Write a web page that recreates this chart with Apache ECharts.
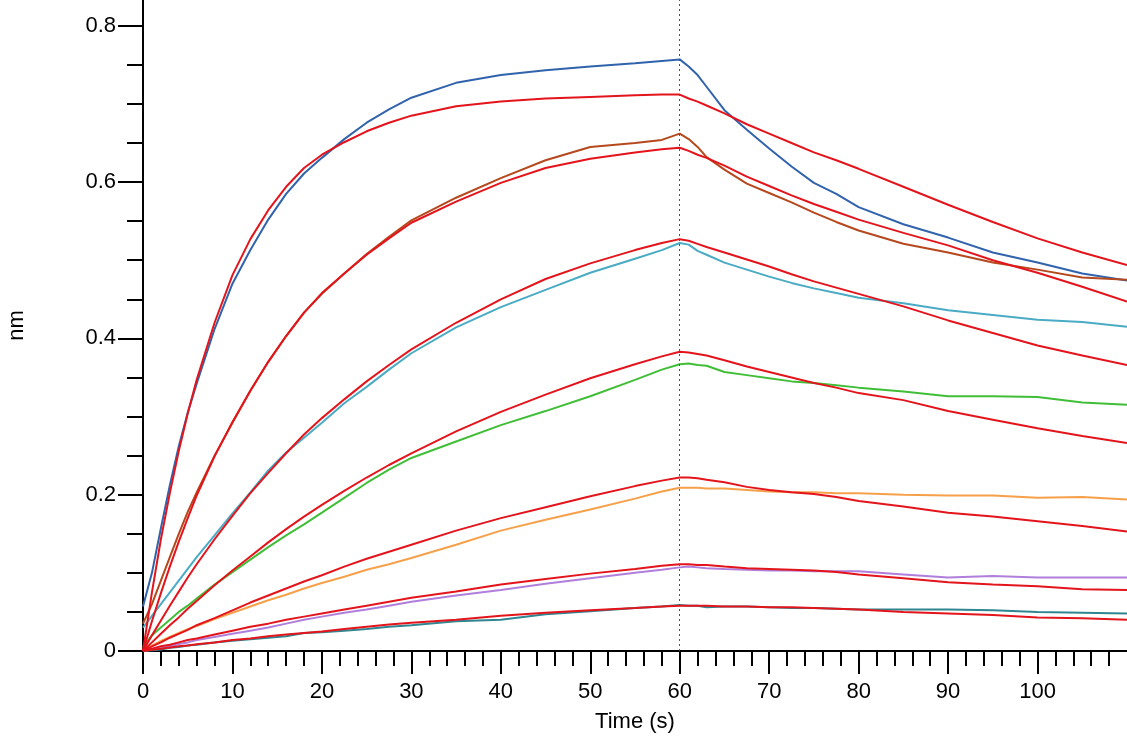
<!DOCTYPE html>
<html>
<head>
<meta charset="utf-8">
<title>Sensorgram</title>
<script src="https://cdn.jsdelivr.net/npm/echarts@6/dist/echarts.min.js"></script>
<style>
  html, body { margin: 0; padding: 0; background: #fff; }
  #main { width: 1127px; height: 739px; }
</style>
</head>
<body>
<div id="main"></div>
<script>
// time points (s)
const timeS = [0, 1, 2, 3, 4, 5, 6, 8, 10, 12, 14, 16, 18, 20, 22.5, 25, 27.5, 30, 35, 40, 45, 50, 55, 58, 60,
  61, 62, 63, 65, 67.5, 70, 72.5, 75, 77.5, 80, 85, 90, 95, 100, 105, 110];

// measured curves (nm)
const blueData = [0.057, 0.100, 0.157, 0.212, 0.262, 0.305, 0.342, 0.412, 0.470, 0.513, 0.552, 0.585, 0.611, 0.631,
  0.655, 0.676, 0.693, 0.708, 0.727, 0.737, 0.743, 0.748, 0.752, 0.755, 0.757,
  0.748, 0.737, 0.722, 0.692, 0.667, 0.643, 0.620, 0.599, 0.585, 0.568, 0.546, 0.529, 0.510, 0.497, 0.483, 0.474];
const brownData = [0.035, 0.060, 0.090, 0.120, 0.150, 0.178, 0.203, 0.250, 0.292, 0.333, 0.370, 0.403, 0.433, 0.457,
  0.483, 0.508, 0.530, 0.551, 0.580, 0.605, 0.628, 0.645, 0.650, 0.654, 0.662,
  0.655, 0.645, 0.632, 0.616, 0.598, 0.586, 0.574, 0.561, 0.549, 0.538, 0.521, 0.510, 0.497, 0.488, 0.478, 0.475];
const cyanData = [0.030, 0.045, 0.060, 0.075, 0.090, 0.105, 0.120, 0.148, 0.176, 0.203, 0.231, 0.254, 0.273, 0.292,
  0.317, 0.338, 0.360, 0.381, 0.414, 0.440, 0.462, 0.484, 0.502, 0.513, 0.522,
  0.520, 0.512, 0.507, 0.497, 0.488, 0.479, 0.471, 0.464, 0.458, 0.452, 0.445, 0.436, 0.430, 0.424, 0.421, 0.415];
const greenData = [0.005, 0.020, 0.030, 0.040, 0.050, 0.058, 0.067, 0.085, 0.101, 0.117, 0.133, 0.148, 0.162, 0.177,
  0.196, 0.215, 0.232, 0.247, 0.268, 0.289, 0.307, 0.326, 0.347, 0.360, 0.367,
  0.368, 0.366, 0.365, 0.357, 0.353, 0.349, 0.345, 0.343, 0.340, 0.337, 0.332, 0.326, 0.326, 0.325, 0.318, 0.315];
const orangeData = [0, 0.007, 0.013, 0.018, 0.023, 0.028, 0.032, 0.041, 0.049, 0.057, 0.065, 0.072, 0.080, 0.087,
  0.095, 0.104, 0.111, 0.119, 0.136, 0.154, 0.168, 0.181, 0.195, 0.204, 0.209,
  0.209, 0.209, 0.208, 0.208, 0.206, 0.204, 0.203, 0.203, 0.202, 0.202, 0.200, 0.199, 0.199, 0.196, 0.197, 0.194];
const purpleData = [0, 0.002, 0.004, 0.006, 0.009, 0.011, 0.014, 0.018, 0.022, 0.026, 0.030, 0.035, 0.040, 0.044,
  0.049, 0.053, 0.058, 0.063, 0.071, 0.078, 0.086, 0.093, 0.100, 0.104, 0.107,
  0.108, 0.107, 0.106, 0.105, 0.104, 0.103, 0.103, 0.102, 0.102, 0.102, 0.098, 0.094, 0.096, 0.094, 0.094, 0.094];
const tealData = [0, 0.001, 0.002, 0.004, 0.005, 0.007, 0.008, 0.011, 0.013, 0.015, 0.017, 0.019, 0.023, 0.024,
  0.026, 0.028, 0.031, 0.033, 0.038, 0.040, 0.047, 0.051, 0.055, 0.057, 0.059,
  0.058, 0.058, 0.056, 0.057, 0.057, 0.056, 0.055, 0.055, 0.054, 0.053, 0.053, 0.053, 0.052, 0.050, 0.049, 0.048];

// fitted curves (nm)
const fit1 = [0, 0.075, 0.143, 0.202, 0.256, 0.304, 0.347, 0.420, 0.481, 0.527, 0.564, 0.594, 0.618, 0.635,
  0.651, 0.665, 0.676, 0.685, 0.697, 0.703, 0.707, 0.709, 0.711, 0.712, 0.712,
  0.707, 0.703, 0.698, 0.688, 0.674, 0.662, 0.650, 0.638, 0.628, 0.617, 0.594, 0.571, 0.549, 0.528, 0.510, 0.494];
const fit2 = [0, 0.038, 0.074, 0.108, 0.140, 0.170, 0.199, 0.249, 0.293, 0.333, 0.370, 0.403, 0.433, 0.458,
  0.483, 0.507, 0.528, 0.548, 0.575, 0.599, 0.618, 0.630, 0.638, 0.642, 0.644,
  0.640, 0.635, 0.631, 0.621, 0.607, 0.595, 0.583, 0.572, 0.562, 0.552, 0.535, 0.519, 0.500, 0.484, 0.466, 0.447];
const fit3 = [0, 0.020, 0.039, 0.058, 0.076, 0.094, 0.111, 0.143, 0.173, 0.202, 0.228, 0.253, 0.277, 0.298,
  0.322, 0.345, 0.366, 0.386, 0.420, 0.450, 0.476, 0.496, 0.513, 0.522, 0.527,
  0.525, 0.521, 0.517, 0.510, 0.501, 0.492, 0.482, 0.473, 0.465, 0.457, 0.441, 0.423, 0.407, 0.391, 0.378, 0.366];
const fit4 = [0, 0.011, 0.022, 0.033, 0.043, 0.054, 0.064, 0.084, 0.103, 0.121, 0.139, 0.156, 0.172, 0.187,
  0.205, 0.222, 0.238, 0.253, 0.281, 0.306, 0.328, 0.349, 0.367, 0.377, 0.383,
  0.382, 0.380, 0.378, 0.372, 0.364, 0.357, 0.350, 0.343, 0.337, 0.330, 0.321, 0.307, 0.296, 0.285, 0.275, 0.266];
const fit5 = [0, 0.006, 0.011, 0.017, 0.022, 0.027, 0.033, 0.042, 0.052, 0.062, 0.071, 0.080, 0.089, 0.097,
  0.108, 0.118, 0.127, 0.136, 0.154, 0.170, 0.184, 0.198, 0.211, 0.218, 0.222,
  0.222, 0.221, 0.219, 0.216, 0.210, 0.206, 0.203, 0.201, 0.197, 0.192, 0.185, 0.177, 0.172, 0.166, 0.160, 0.153];
const fit6 = [0, 0.003, 0.006, 0.008, 0.011, 0.014, 0.016, 0.021, 0.026, 0.031, 0.035, 0.040, 0.044, 0.048,
  0.053, 0.058, 0.063, 0.068, 0.076, 0.085, 0.092, 0.099, 0.105, 0.109, 0.111,
  0.111, 0.110, 0.110, 0.108, 0.106, 0.105, 0.104, 0.103, 0.101, 0.098, 0.093, 0.088, 0.085, 0.083, 0.079, 0.078];
const fit7 = [0, 0.0015, 0.003, 0.0045, 0.006, 0.007, 0.0085, 0.011, 0.014, 0.016, 0.019, 0.021, 0.023, 0.025,
  0.028, 0.031, 0.034, 0.036, 0.040, 0.045, 0.049, 0.052, 0.055, 0.057, 0.058,
  0.058, 0.058, 0.058, 0.057, 0.057, 0.056, 0.056, 0.055, 0.054, 0.053, 0.050, 0.048, 0.046, 0.043, 0.042, 0.040];

// axis ticks
const xMajorTicks = [0, 10, 20, 30, 40, 50, 60, 70, 80, 90, 100];
const yMajorTicks = [0, 0.2, 0.4, 0.6, 0.8];
const yMinorTicks = [0.05, 0.1, 0.15, 0.25, 0.3, 0.35, 0.45, 0.5, 0.55, 0.65, 0.7, 0.75];
const stepTime = 60;

const measured = [
  { name: 'c1', color: '#3163ad', values: blueData },
  { name: 'c2', color: '#b5481c', values: brownData },
  { name: 'c3', color: '#4aabc4', values: cyanData },
  { name: 'c4', color: '#41be37', values: greenData },
  { name: 'c5', color: '#f7a04a', values: orangeData },
  { name: 'c6', color: '#b07fdc', values: purpleData },
  { name: 'c7', color: '#2f8690', values: tealData }
];
const fits = [fit1, fit2, fit3, fit4, fit5, fit6, fit7];

const toPairs = vals => timeS.map((t, i) => [t, vals[i]]);

const series = [];
measured.forEach(m => {
  series.push({
    name: m.name,
    type: 'line',
    data: toPairs(m.values),
    showSymbol: false,
    lineStyle: { color: m.color, width: 2 },
    z: 2
  });
});
fits.forEach((f, i) => {
  series.push({
    name: 'fit' + (i + 1),
    type: 'line',
    data: toPairs(f),
    showSymbol: false,
    lineStyle: { color: '#e3141b', width: 2 },
    z: 3
  });
});
// dotted marker at the association/dissociation switch
series[0].markLine = {
  silent: true,
  symbol: ['none', 'none'],
  label: { show: false },
  lineStyle: { color: '#b8282a', width: 1, type: [2, 3] },
  data: [{ xAxis: stepTime }]
};

const font = 'Liberation Sans, Arial, sans-serif';
const black = '#000';

const myChart = echarts.init(document.getElementById('main'));
myChart.setOption({
  animation: false,
  backgroundColor: '#fff',
  grid: { left: 143, right: 0, top: 0, bottom: 88, containLabel: false, outerBoundsMode: 'none' },
  xAxis: [
    {
      type: 'value',
      min: 0,
      max: 110,
      interval: 10,
      name: 'Time (s)',
      nameLocation: 'middle',
      nameGap: 60,
      nameTextStyle: { color: black, fontSize: 22, fontFamily: font },
      axisLine: { lineStyle: { color: black, width: 2 } },
      axisTick: { show: true, inside: false, length: 23, lineStyle: { color: black, width: 2 }, customValues: xMajorTicks },
      minorTick: { show: true, splitNumber: 5, length: 15, lineStyle: { color: black, width: 2 } },
      axisLabel: { color: black, fontSize: 22, fontFamily: font, margin: 30, customValues: xMajorTicks },
      splitLine: { show: false }
    }
  ],
  yAxis: [
    {
      type: 'value',
      min: 0,
      max: 0.833,
      name: 'nm',
      nameLocation: 'middle',
      nameGap: 115,
      nameRotate: 90,
      nameTextStyle: { color: black, fontSize: 22, fontFamily: font },
      axisLine: { show: true, lineStyle: { color: black, width: 2 } },
      axisTick: { show: true, inside: false, length: 25, lineStyle: { color: black, width: 2 }, customValues: yMajorTicks },
      axisLabel: { color: black, fontSize: 22, fontFamily: font, margin: 27, customValues: yMajorTicks },
      splitLine: { show: false }
    },
    {
      type: 'value',
      min: 0,
      max: 0.833,
      position: 'left',
      axisLine: { show: false },
      axisTick: { show: true, inside: false, length: 16, lineStyle: { color: black, width: 2 }, customValues: yMinorTicks },
      axisLabel: { show: false },
      splitLine: { show: false }
    }
  ],
  series: series
});
</script>
</body>
</html>
